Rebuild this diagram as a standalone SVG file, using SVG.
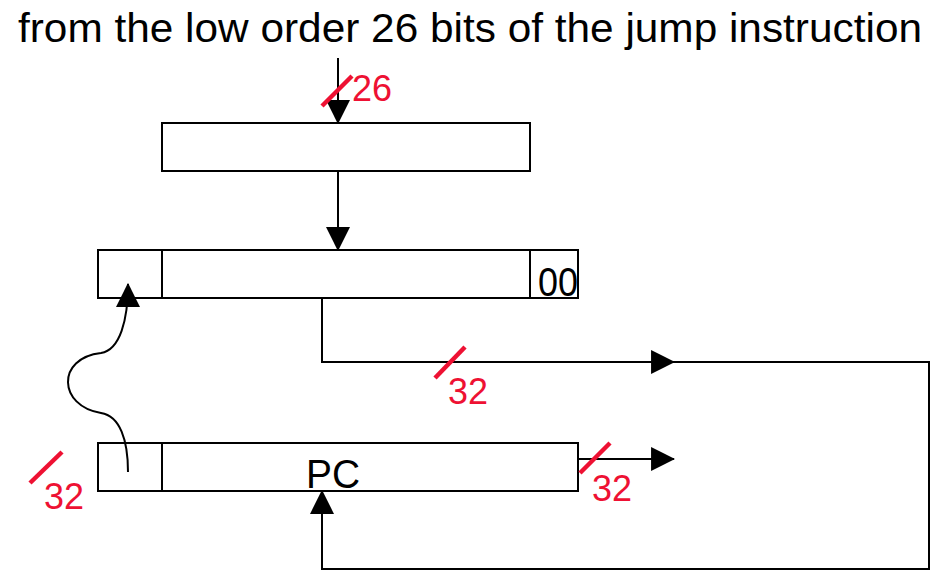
<svg xmlns="http://www.w3.org/2000/svg" width="930" height="570" viewBox="0 0 930 570">
  <style>
    .box { fill: #ffffff; stroke: #000000; stroke-width: 2; }
    .wire { fill: none; stroke: #000000; stroke-width: 2; }
    .slash { stroke: #ee1133; stroke-width: 4.5; }
    .bits { font-family: "Liberation Sans", Arial, sans-serif; font-size: 37px; fill: #ee1133; }
    .label { font-family: "Liberation Sans", Arial, sans-serif; font-size: 40px; fill: #000000; }
  </style>
  <defs>
    <marker id="arrow" markerUnits="userSpaceOnUse" markerWidth="24" markerHeight="24" viewBox="0 0 22 22" refX="21" refY="11" orient="auto">
      <path d="M0,0 L22,11 L0,22 Z" fill="#000000"/>
    </marker>
  </defs>

  <rect width="930" height="570" fill="#ffffff"/>

  <text class="label" x="18" y="42" textLength="904" lengthAdjust="spacingAndGlyphs">from the low order 26 bits of the jump instruction</text>

  <!-- shift-left unit -->
  <g id="shifter">
    <rect class="box" x="162" y="123" width="368" height="48"/>
  </g>

  <!-- jump target register -->
  <g id="target">
    <rect class="box" x="98" y="250" width="480" height="48"/>
    <text class="label" x="538" y="296" font-size="43" textLength="40" lengthAdjust="spacingAndGlyphs">00</text>
    <line class="wire" x1="162" y1="250" x2="162" y2="298"/>
    <line class="wire" x1="530" y1="250" x2="530" y2="298"/>
    <line class="wire" x1="578" y1="250" x2="578" y2="298"/>
  </g>

  <!-- program counter -->
  <g id="pc">
    <rect class="box" x="98" y="443" width="480" height="48"/>
    <line class="wire" x1="162" y1="443" x2="162" y2="491"/>
    <text class="label" x="306" y="488" font-size="39" textLength="54" lengthAdjust="spacingAndGlyphs">PC</text>
  </g>

  <g id="connectors">
    <line class="wire" x1="338" y1="58" x2="338" y2="123" marker-end="url(#arrow)"/>
    <line class="wire" x1="338" y1="171" x2="338" y2="250" marker-end="url(#arrow)"/>
    <path class="wire" d="M322,298 L322,362 L674,362" marker-end="url(#arrow)"/>
    <path class="wire" d="M674,362 L929,362 L929,569 L322,569 L322,491" marker-end="url(#arrow)"/>
    <line class="wire" x1="578" y1="459" x2="674" y2="459" marker-end="url(#arrow)"/>
    <path class="wire" d="M128,472 C128,440 120,416 101,413 C58,406 56,358 101,353 C120,350 128,320 128,284" marker-end="url(#arrow)"/>
  </g>

  <g id="widths">
    <line class="slash" x1="322" y1="106" x2="352" y2="76"/>
    <text class="bits" x="352" y="101" textLength="40" lengthAdjust="spacingAndGlyphs">26</text>
    <line class="slash" x1="435" y1="378" x2="465" y2="347"/>
    <text class="bits" x="448" y="404" textLength="40" lengthAdjust="spacingAndGlyphs">32</text>
    <line class="slash" x1="580" y1="473" x2="610" y2="443"/>
    <text class="bits" x="592" y="501" textLength="40" lengthAdjust="spacingAndGlyphs">32</text>
    <line class="slash" x1="30" y1="483" x2="62" y2="452"/>
    <text class="bits" x="44" y="509" textLength="40" lengthAdjust="spacingAndGlyphs">32</text>
  </g>
</svg>
